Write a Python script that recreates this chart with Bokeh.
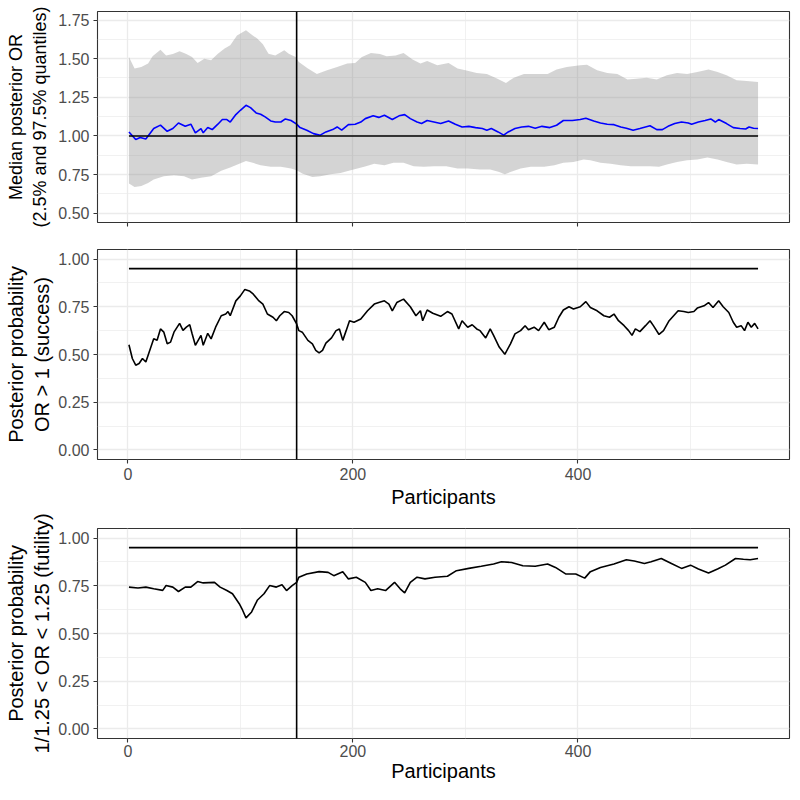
from bokeh.plotting import figure
from bokeh.models import Range1d, FixedTicker, Span, NumeralTickFormatter
from bokeh.layouts import column
from bokeh.embed import file_html
from bokeh.resources import INLINE

# ---------------- data ----------------
median_n = [1, 7, 11, 16, 23, 29, 35, 40, 45, 51, 56, 60, 65, 67, 71, 75, 80, 84, 88, 91, 96, 100, 105, 109,
            114, 118, 122, 127, 131, 136, 140, 145, 150, 153, 159, 165, 171, 176, 182, 186, 190, 196, 202, 207,
            211, 218, 223, 228, 235, 241, 246, 251, 257, 261, 266, 272, 278, 285, 291, 297, 303, 309, 315, 319,
            323, 329, 334, 338, 344, 350, 356, 362, 368, 375, 381, 387, 395, 402, 407, 414, 420, 426, 432, 438,
            443, 449, 455, 464, 470, 475, 480, 486, 492, 498, 501, 507, 513, 518, 522, 525, 532, 538, 544, 549,
            552, 556, 560]
median_or = [1.026, 0.977, 0.99, 0.98, 1.048, 1.07, 1.03, 1.048, 1.084, 1.063, 1.076, 1.02, 1.048, 1.02, 1.054,
             1.041, 1.076, 1.106, 1.106, 1.09, 1.138, 1.166, 1.198, 1.183, 1.149, 1.14, 1.123, 1.097, 1.09, 1.09,
             1.11, 1.10, 1.076, 1.054, 1.037, 1.015, 1.005, 1.026, 1.041, 1.058, 1.037, 1.073, 1.076, 1.09, 1.112,
             1.13, 1.12, 1.134, 1.106, 1.13, 1.138, 1.112, 1.09, 1.08, 1.10, 1.09, 1.08, 1.097, 1.076, 1.058,
             1.062, 1.054, 1.048, 1.037, 1.048, 1.026, 1.005, 1.026, 1.048, 1.058, 1.062, 1.05, 1.062, 1.054,
             1.069, 1.10, 1.10, 1.106, 1.115, 1.097, 1.084, 1.076, 1.073, 1.058, 1.05, 1.037, 1.048, 1.066,
             1.041, 1.041, 1.062, 1.08, 1.09, 1.084, 1.076, 1.09, 1.10, 1.11, 1.09, 1.106, 1.08, 1.054, 1.048,
             1.045, 1.058, 1.05, 1.048]

upper_n = [1, 6, 12, 18, 22, 29, 34, 40, 46, 52, 57, 62, 68, 74, 80, 86, 91, 97, 105, 111, 115, 120, 125, 131,
           139, 143, 149, 152, 160, 168, 177, 186, 195, 202, 208, 216, 224, 230, 238, 245, 253, 260, 266, 275,
           285, 293, 300, 310, 319, 328, 336, 343, 352, 362, 373, 381, 390, 402, 408, 417, 426, 435, 444, 452,
           461, 470, 479, 488, 497, 506, 516, 524, 532, 541, 550, 560]
upper_or = [1.51, 1.436, 1.446, 1.468, 1.515, 1.558, 1.52, 1.53, 1.548, 1.53, 1.51, 1.472, 1.50, 1.49, 1.532,
            1.565, 1.586, 1.65, 1.683, 1.65, 1.63, 1.593, 1.532, 1.52, 1.554, 1.532, 1.51, 1.478, 1.436, 1.40,
            1.425, 1.446, 1.468, 1.472, 1.51, 1.537, 1.53, 1.516, 1.52, 1.537, 1.494, 1.468, 1.485, 1.457, 1.472,
            1.436, 1.425, 1.407, 1.40, 1.371, 1.343, 1.377, 1.40, 1.40, 1.40, 1.43, 1.446, 1.457, 1.46, 1.425,
            1.407, 1.40, 1.365, 1.37, 1.377, 1.365, 1.392, 1.407, 1.40, 1.414, 1.43, 1.414, 1.392, 1.36, 1.355,
            1.349]

lower_n = [1, 6, 12, 18, 23, 32, 41, 50, 57, 65, 74, 83, 91, 99, 105, 111, 118, 127, 136, 145, 150, 155, 164,
           171, 180, 189, 198, 210, 219, 228, 236, 245, 254, 263, 272, 283, 293, 302, 313, 322, 330, 335, 340,
           349, 358, 370, 379, 387, 396, 405, 411, 420, 429, 438, 447, 455, 464, 472, 479, 488, 497, 506, 515,
           524, 532, 541, 550, 560]
lower_or = [0.692, 0.67, 0.676, 0.696, 0.718, 0.74, 0.745, 0.74, 0.718, 0.73, 0.74, 0.774, 0.796, 0.82, 0.838,
            0.826, 0.81, 0.80, 0.80, 0.789, 0.778, 0.757, 0.735, 0.74, 0.752, 0.76, 0.778, 0.80, 0.82, 0.81,
            0.826, 0.826, 0.804, 0.80, 0.804, 0.804, 0.789, 0.789, 0.783, 0.783, 0.767, 0.752, 0.767, 0.789,
            0.80, 0.80, 0.81, 0.826, 0.832, 0.847, 0.843, 0.826, 0.82, 0.81, 0.804, 0.804, 0.804, 0.80, 0.815,
            0.832, 0.843, 0.847, 0.86, 0.847, 0.832, 0.815, 0.82, 0.815]

success_n = [1, 4, 7, 10, 13, 16, 19, 23, 26, 29, 32, 35, 38, 41, 46, 49, 52, 55, 57, 60, 65, 67, 71, 74, 78,
             83, 87, 89, 91, 96, 100, 104, 108, 111, 116, 120, 124, 129, 132, 135, 139, 143, 146, 150, 152, 155,
             160, 164, 167, 170, 173, 176, 181, 185, 188, 191, 194, 197, 201, 207, 213, 219, 223, 228, 232, 235,
             239, 245, 251, 256, 260, 262, 266, 271, 278, 284, 288, 294, 297, 302, 306, 310, 313, 318, 322, 325,
             330, 335, 340, 344, 349, 353, 356, 361, 365, 370, 374, 379, 383, 387, 392, 396, 402, 407, 411, 417,
             423, 428, 432, 436, 441, 445, 448, 451, 455, 460, 464, 467, 472, 476, 481, 485, 489, 494, 498, 503,
             506, 512, 516, 520, 525, 529, 534, 538, 541, 545, 548, 551, 554, 557, 560]
success_p = [0.551, 0.479, 0.444, 0.453, 0.479, 0.461, 0.513, 0.582, 0.575, 0.634, 0.617, 0.556, 0.565, 0.617,
             0.663, 0.626, 0.643, 0.656, 0.611, 0.548, 0.60, 0.548, 0.611, 0.582, 0.643, 0.703, 0.712, 0.725,
             0.703, 0.781, 0.807, 0.841, 0.833, 0.819, 0.784, 0.764, 0.712, 0.695, 0.677, 0.703, 0.725, 0.72,
             0.703, 0.66, 0.625, 0.617, 0.574, 0.556, 0.522, 0.508, 0.522, 0.56, 0.587, 0.625, 0.634, 0.574,
             0.625, 0.677, 0.669, 0.686, 0.729, 0.764, 0.772, 0.781, 0.764, 0.729, 0.772, 0.79, 0.75, 0.703,
             0.729, 0.677, 0.733, 0.716, 0.70, 0.725, 0.712, 0.634, 0.677, 0.643, 0.656, 0.634, 0.625, 0.587,
             0.634, 0.60, 0.539, 0.501, 0.556, 0.608, 0.625, 0.651, 0.63, 0.643, 0.625, 0.669, 0.63, 0.643,
             0.695, 0.733, 0.75, 0.738, 0.75, 0.777, 0.746, 0.729, 0.703, 0.695, 0.712, 0.677, 0.651, 0.625,
             0.60, 0.634, 0.62, 0.651, 0.677, 0.651, 0.605, 0.625, 0.677, 0.703, 0.729, 0.725, 0.72, 0.725,
             0.743, 0.755, 0.772, 0.746, 0.781, 0.75, 0.72, 0.669, 0.643, 0.651, 0.625, 0.669, 0.643, 0.663,
             0.634]

futility_n = [1, 9, 16, 23, 31, 34, 40, 45, 51, 56, 62, 67, 77, 82, 88, 93, 99, 102, 105, 110, 115, 121, 126,
              132, 137, 141, 146, 150, 152, 159, 170, 178, 183, 191, 196, 203, 211, 216, 222, 229, 237, 242, 246,
              251, 257, 264, 273, 284, 292, 303, 314, 325, 332, 341, 351, 362, 373, 380, 389, 398, 406, 411, 420,
              432, 443, 450, 459, 465, 474, 483, 492, 500, 507, 516, 524, 531, 540, 547, 553, 560]
futility_p = [0.743, 0.738, 0.743, 0.734, 0.726, 0.751, 0.743, 0.72, 0.743, 0.743, 0.772, 0.765, 0.768, 0.743,
              0.725, 0.708, 0.656, 0.622, 0.582, 0.613, 0.674, 0.708, 0.751, 0.743, 0.755, 0.725, 0.751, 0.768,
              0.795, 0.812, 0.824, 0.82, 0.803, 0.824, 0.786, 0.795, 0.768, 0.725, 0.734, 0.725, 0.768, 0.734,
              0.713, 0.768, 0.795, 0.786, 0.795, 0.80, 0.829, 0.841, 0.852, 0.864, 0.876, 0.872, 0.855, 0.852,
              0.864, 0.846, 0.812, 0.812, 0.79, 0.824, 0.846, 0.864, 0.886, 0.88, 0.867, 0.876, 0.893, 0.867,
              0.841, 0.858, 0.838, 0.817, 0.838, 0.858, 0.893, 0.889, 0.886, 0.893]

or_reference = 1.0
success_threshold = 0.95
futility_threshold = 0.95
interim_n = 150

x_ticks = [0, 200, 400]
x_minor = [100, 300, 500]
or_ticks = [0.50, 0.75, 1.00, 1.25, 1.50, 1.75]
or_minor = [0.625, 0.875, 1.125, 1.375, 1.625]
prob_ticks = [0.00, 0.25, 0.50, 0.75, 1.00]
prob_minor = [0.125, 0.375, 0.625, 0.875]

# ---------------- styling helpers ----------------
FONT = "Liberation Sans"
GRID = "#EBEBEB"
DARK = "#333333"

x_lo, x_hi = min(median_n), max(median_n)
x_pad = 0.05 * (x_hi - x_lo)
X_RANGE = (x_lo - x_pad, x_hi + x_pad)


def make_fig(height, top, bottom, y_range, yticks, yminor, ylabel, xlabel, show_xlabels,
             xlab_standoff=4, xtitle_standoff=3, ylabel_size="20px", ylabel_standoff=2):
    p = figure(width=792, height=height, output_backend="svg", toolbar_location=None,
               x_range=Range1d(*X_RANGE), y_range=Range1d(*y_range),
               min_border_left=97, min_border_right=3, min_border_top=top, min_border_bottom=bottom)
    p.background_fill_color = "white"
    p.border_fill_color = "white"
    p.outline_line_color = DARK
    p.outline_line_width = 1.1

    p.xaxis.ticker = FixedTicker(ticks=x_ticks, minor_ticks=x_minor)
    p.yaxis.ticker = FixedTicker(ticks=yticks, minor_ticks=yminor)
    p.yaxis.formatter = NumeralTickFormatter(format="0.00")

    for g in (p.xgrid, p.ygrid):
        g.grid_line_color = GRID
        g.grid_line_width = 1.3
        g.minor_grid_line_color = GRID
        g.minor_grid_line_width = 0.7

    for ax in (p.xaxis, p.yaxis):
        ax.axis_line_color = None
        ax.major_tick_line_color = DARK
        ax.major_tick_line_width = 1.1
        ax.major_tick_out = 4
        ax.major_tick_in = 0
        ax.minor_tick_line_color = None
        ax.major_label_text_font = FONT
        ax.major_label_text_font_size = "16px"
        ax.major_label_text_color = "#4D4D4D"
        ax.axis_label_text_font = FONT
        ax.axis_label_text_font_size = "20px"
        ax.axis_label_text_font_style = "normal"
        ax.axis_label_text_color = "black"

    p.yaxis.major_label_standoff = 4
    p.yaxis.axis_label = ylabel
    p.yaxis.axis_label_text_font_size = ylabel_size
    p.yaxis.axis_label_standoff = ylabel_standoff
    p.xaxis.major_label_standoff = xlab_standoff
    if show_xlabels:
        p.xaxis.axis_label = xlabel
        p.xaxis.axis_label_standoff = xtitle_standoff
    else:
        p.xaxis.major_label_overrides = {t: "" for t in x_ticks}
    return p


# ---------------- panel 1: median OR with 95% interval ----------------
p1 = make_fig(230, 11, 8, (0.44, 1.805), or_ticks, or_minor,
              "Median posterior OR\n(2.5% and 97.5% quantiles)", None, False,
              ylabel_size="18px", ylabel_standoff=5)
p1.patch(upper_n + lower_n[::-1], upper_or + lower_or[::-1],
         fill_color="#808080", fill_alpha=0.34, line_color=None)
p1.line(median_n, median_or, line_color="blue", line_width=1.6)
p1.line([x_lo, x_hi], [or_reference, or_reference], line_color="black", line_width=1.6)
p1.add_layout(Span(location=interim_n, dimension="height", line_color="black", line_width=1.6))

# ---------------- panel 2: success probability ----------------
p2 = make_fig(280, 19, 50, (-0.05, 1.05), prob_ticks, prob_minor,
              "Posterior probability\nOR > 1 (success)", "Participants", True)
p2.line(success_n, success_p, line_color="black", line_width=1.6)
p2.line([x_lo, x_hi], [success_threshold, success_threshold], line_color="black", line_width=1.6)
p2.add_layout(Span(location=interim_n, dimension="height", line_color="black", line_width=1.6))

# ---------------- panel 3: futility probability ----------------
p3 = make_fig(274, 18, 45, (-0.05, 1.05), prob_ticks, prob_minor,
              "Posterior probability\n1/1.25 < OR < 1.25 (futility)", "Participants", True,
              xlab_standoff=2, xtitle_standoff=0)
p3.line(futility_n, futility_p, line_color="black", line_width=1.6)
p3.line([x_lo, x_hi], [futility_threshold, futility_threshold], line_color="black", line_width=1.6)
p3.add_layout(Span(location=interim_n, dimension="height", line_color="black", line_width=1.6))

layout = column(p1, p2, p3, spacing=0)
open("out.html", "w").write(file_html(layout, INLINE))
